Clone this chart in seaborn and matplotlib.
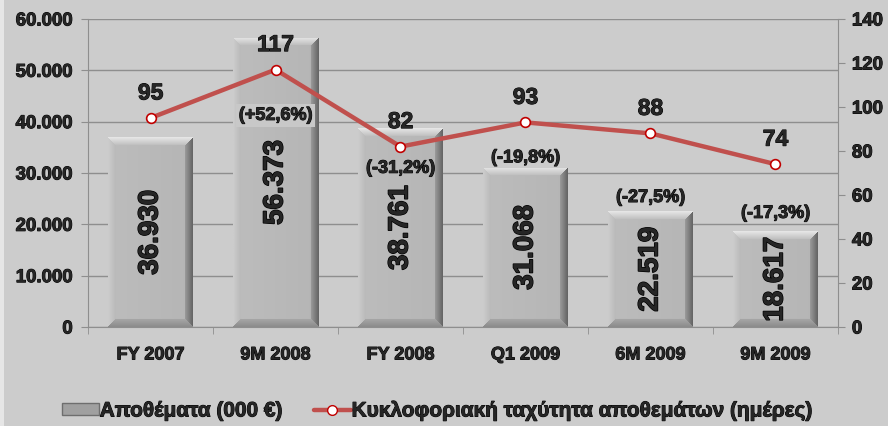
import numpy as np
import pandas as pd
import matplotlib
matplotlib.use("Agg")
import matplotlib.pyplot as plt
import matplotlib.patheffects as pe
import seaborn as sns
from matplotlib.patches import Patch, Rectangle
from matplotlib.lines import Line2D
from matplotlib.ticker import FuncFormatter, MultipleLocator

# data
periods = ["FY 2007", "9M 2008", "FY 2008", "Q1 2009", "6M 2009", "9M 2009"]
stock = [36930, 56373, 38761, 31068, 22519, 18617]        # 000 euro
days = [95, 117, 82, 93, 88, 74]                           # inventory days
changes = ["", "(+52,6%)", "(-31,2%)", "(-19,8%)", "(-27,5%)", "(-17,3%)"]

stock_label = "Αποθέματα (000 €)"
days_label = "Κυκλοφοριακή ταχύτητα αποθεμάτων (ημέρες)"

# label offsets (points) of the % labels relative to bar tops
change_offsets = [0, -56, -29, 7, 10, 13]

df = pd.DataFrame({"period": periods, "stock": stock, "days": days})

sns.set_style("white")
plt.rcParams["font.family"] = ["Liberation Sans", "DejaVu Sans"]
plt.rcParams["font.weight"] = "bold"

BG = "#CCCCCC"
RED = "#C0504D"
GRID = "#8E8E8E"
heavy = [pe.withStroke(linewidth=0.7, foreground="black")]

fig = plt.figure(figsize=(8.88, 4.26), dpi=100, facecolor=BG)
ax = fig.add_axes([88 / 888, 99 / 426, 750 / 888, 308 / 426])
ax.set_facecolor(BG)
# light strip on the left edge of the slide
fig.patches.append(Rectangle((0, 0), 4 / 888, 1, transform=fig.transFigure,
                             facecolor="#E6E6E6", edgecolor="none"))

sns.barplot(data=df, x="period", y="stock", color="#B4B4B4", width=0.68,
            ax=ax, zorder=2, edgecolor="none")


def bevel(w, h, b=8):
    r = np.arange(h)[:, None] * np.ones((1, w))
    c = np.ones((h, 1)) * np.arange(w)[None, :]
    dt, db, dl, dr = r, h - 1 - r, c, w - 1 - c
    d = np.stack([dt, db, dl, dr])
    which = d.argmin(axis=0)
    dmin = d.min(axis=0)
    t = np.clip(dmin / b, 0, 1)
    img = np.full((h, w), 0.71) + 0.03 * (1 - c / w)
    edge = {0: (0.90, 0.74), 1: (0.55, 0.66), 2: (0.80, 0.72), 3: (0.40, 0.62)}
    for k, (e0, e1) in edge.items():
        m = (which == k) & (dmin < b)
        img[m] = e0 + (e1 - e0) * t[m]
    return np.dstack([img] * 3)


for p in ax.patches:
    x0, w, hv = p.get_x(), p.get_width(), p.get_height()
    hpx = max(int(hv / 60000 * 308), 10)
    im = ax.imshow(bevel(85, hpx), extent=(x0, x0 + w, 0, hv), origin="upper",
                   aspect="auto", interpolation="bilinear", zorder=3)
    im.set_clip_path(p)

ax.set_xlim(-0.5, 5.5)
ax.set_ylim(0, 60000)
ax.yaxis.set_major_locator(MultipleLocator(10000))
ax.yaxis.set_major_formatter(FuncFormatter(lambda v, _: f"{int(v):,}".replace(",", ".")))
ax.grid(axis="y", color=GRID, lw=1)
ax.set_axisbelow(True)
ax.set_xlabel("")
ax.set_ylabel("")
for s in ["top", "right"]:
    ax.spines[s].set_visible(False)
for s in ["left", "bottom"]:
    ax.spines[s].set_color(GRID)
ax.set_xticks(np.arange(-0.5, 6, 1), minor=True)
ax.tick_params(axis="x", which="major", length=0, pad=14, labelsize=13)
ax.tick_params(axis="x", which="minor", length=5, color=GRID, direction="out")
ax.tick_params(axis="y", length=5, color=GRID, direction="out", labelsize=13.4, pad=6)
ax.yaxis.set_ticks_position("left")
ax.xaxis.set_ticks_position("bottom")
for lab in ax.get_xticklabels() + ax.get_yticklabels():
    lab.set_fontweight("bold")
    lab.set_path_effects(heavy)

# values inside bars
for i, v in enumerate(stock):
    ax.text(i, v / 2, f"{v:,}".replace(",", "."), rotation=90, ha="center",
            va="center", fontsize=20, fontweight="bold", zorder=5,
            path_effects=[pe.withStroke(linewidth=1.0, foreground="black")])

# % change labels
for i, (v, txt, off) in enumerate(zip(stock, changes, change_offsets)):
    if not txt:
        continue
    kw = {}
    if i == 1:
        kw["bbox"] = dict(facecolor="#C8C8C8", edgecolor="none", pad=2)
    ax.annotate(txt, xy=(i, v), xytext=(0, off), textcoords="offset points",
                ha="center", va="center", fontsize=13, fontweight="bold",
                zorder=6, path_effects=heavy, **kw)

# secondary axis: inventory days
ax2 = ax.twinx()
sns.pointplot(data=df, x="period", y="days", ax=ax2, color=RED,
              markers="o", markersize=7, linewidth=3.2,
              markerfacecolor="white", markeredgecolor="#C00000",
              markeredgewidth=1.2)
ax2.set_xlim(-0.5, 5.5)
ax2.set_ylim(0, 140)
ax2.yaxis.set_major_locator(MultipleLocator(20))
ax2.set_ylabel("")
ax2.set_xlabel("")
for s in ["top", "left", "bottom"]:
    ax2.spines[s].set_visible(False)
ax2.spines["right"].set_color(GRID)
ax2.tick_params(axis="y", length=5, color=GRID, direction="out", labelsize=13.4, pad=5)
ax2.yaxis.set_ticks_position("right")
for lab in ax2.get_yticklabels():
    lab.set_fontweight("bold")
    lab.set_path_effects(heavy)
ax2.grid(False)

for i, d in enumerate(days):
    ax2.annotate(str(d), xy=(i, d), xytext=(0, 18), textcoords="offset points",
                 ha="center", va="center", fontsize=16.5, fontweight="bold",
                 path_effects=heavy)

handles = [
    Patch(facecolor="#A0A0A0", edgecolor="#6E6E6E"),
    Line2D([], [], color=RED, lw=3.2, marker="o", markersize=7,
           markerfacecolor="white", markeredgecolor="#C00000"),
]
leg = fig.legend(handles, [stock_label, days_label], loc="center",
                 bbox_to_anchor=(0.493, 1 - 411 / 426), ncol=2, frameon=False,
                 prop={"size": 15, "weight": "bold"}, handlelength=1.75,
                 handleheight=0.55, handletextpad=0.05, columnspacing=1.5)
for t in leg.get_texts():
    t.set_path_effects(heavy)

fig.savefig("out.png", dpi=100, facecolor=BG)
